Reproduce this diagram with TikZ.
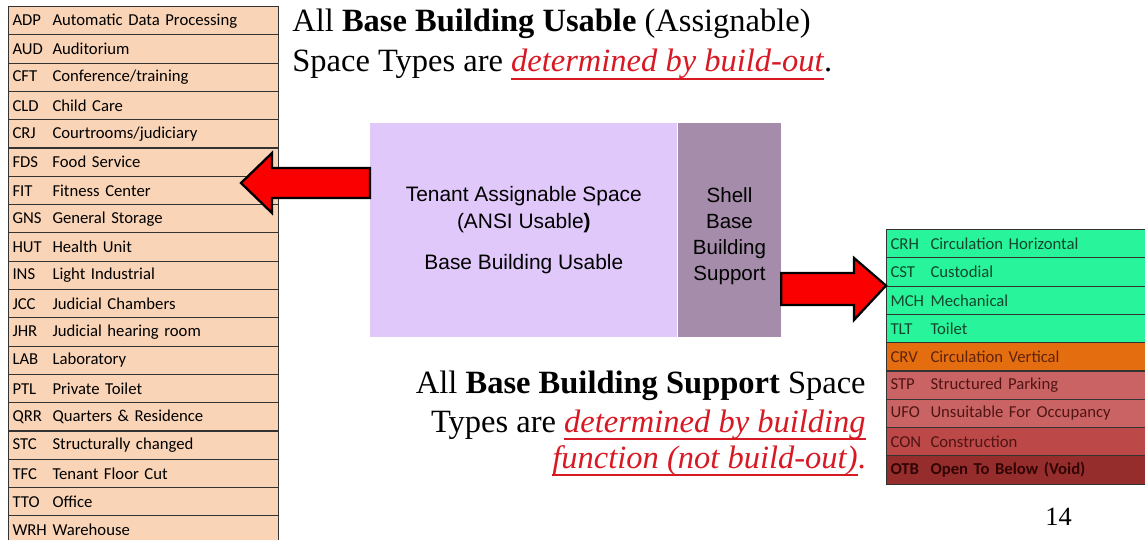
\documentclass[tikz,border=0pt]{standalone}
\usepackage{fontspec}
\setmainfont{Liberation Serif}
\newfontfamily\tablefont{Carlito}
\newfontfamily\boxfont{Liberation Sans}
\usetikzlibrary{positioning}

\definecolor{peach}{RGB}{250,212,182}
\definecolor{lavender}{RGB}{225,200,250}
\definecolor{shellgray}{RGB}{165,140,170}
\definecolor{supgreen}{RGB}{40,245,155}
\definecolor{supgreentext}{RGB}{20,70,45}
\definecolor{crvorange}{RGB}{228,110,15}
\definecolor{crvtext}{RGB}{95,35,10}
\definecolor{stpred}{RGB}{202,100,100}
\definecolor{conred}{RGB}{188,72,72}
\definecolor{otbred}{RGB}{150,45,45}
\definecolor{redtext}{RGB}{80,20,20}
\definecolor{otbtext}{RGB}{50,5,5}
\definecolor{titlered}{RGB}{215,25,35}
\definecolor{arrowred}{RGB}{250,0,0}

\newsavebox\ulbox
\newcommand\redul[1]{\textcolor{titlered}{\sbox\ulbox{\textit{#1}}%
  \rlap{\rule[-0.24em]{\wd\ulbox}{0.9pt}}\usebox\ulbox}}

\begin{document}
\begin{tikzpicture}[x=0.02cm, y=-0.02cm,
  leftrow/.style={draw=black!80, line width=0.6pt, fill=peach, anchor=north west,
    minimum height=0.566cm, text width=5.24cm, inner xsep=0.08cm, inner ysep=0pt,
    align=left, font=\tablefont\fontsize{9.5}{11}\selectfont},
  rightrow/.style 2 args={leftrow, fill=#1, text=#2},
  tasbox/.style={fill=lavender, anchor=north west, minimum width=6.14cm,
    minimum height=4.28cm, inner sep=0pt, align=center,
    font=\boxfont\fontsize{11.9}{15.3}\selectfont},
  shellbox/.style={fill=shellgray, minimum width=2.06cm, minimum height=4.28cm},
  shelltext/.style={inner sep=0pt, align=center, font=\boxfont\fontsize{11.7}{14.7}\selectfont},
  caption/.style={inner sep=0pt, font=\fontsize{18.5}{22.7}\selectfont},
  blockarrow/.style={draw=black, line width=1.3pt, fill=arrowred, line join=miter}
]
  \clip (0,0) rectangle (1145,540);

  % usable space types
  \foreach \code/\name [count=\i from 0] in {ADP/Automatic Data Processing,
      AUD/Auditorium, CFT/{Conference/training}, CLD/Child Care,
      CRJ/{Courtrooms/judiciary}, FDS/Food Service, FIT/Fitness Center,
      GNS/General Storage, HUT/Health Unit, INS/Light Industrial,
      JCC/Judicial Chambers, JHR/Judicial hearing room, LAB/Laboratory,
      PTL/Private Toilet, QRR/Quarters \& Residence, STC/Structurally changed,
      TFC/Tenant Floor Cut, TTO/Office, WRH/Warehouse}
    \node[leftrow] (use\i) at (8,{6+28.3*\i}) {\makebox[0.8cm][l]{\code}\name};

  % support space types
  \foreach \code/\name/\bg/\fg [count=\i from 0] in {
      CRH/Circulation Horizontal/supgreen/supgreentext,
      CST/Custodial/supgreen/supgreentext,
      MCH/Mechanical/supgreen/supgreentext,
      TLT/Toilet/supgreen/supgreentext,
      CRV/Circulation Vertical/crvorange/crvtext,
      STP/Structured Parking/stpred/redtext,
      UFO/Unsuitable For Occupancy/stpred/redtext,
      CON/Construction/conred/redtext,
      {\textbf{OTB}}/{\textbf{Open To Below (Void)}}/otbred/otbtext}
    \node[rightrow={\bg}{\fg}] (sup\i) at (886,{229+28.3*\i}) {\makebox[0.8cm][l]{\code}\name};

  % building blocks
  \node[tasbox] (tas) at (370,123) {Tenant Assignable Space\\(ANSI Usable\textbf{)}\\[8pt]Base Building Usable};
  \node[shellbox, right=0pt of tas] (shell) {};
  \node[shelltext] (shelllabel) at ([yshift=-0.12cm]shell.center) {Shell\\Base\\Building\\Support};

  % arrows
  \draw[blockarrow] (tas.west |- 0,168) -- (272,168) -- (272,153) -- (241,183)
    -- (272,213) -- (272,198) -- (tas.west |- 0,198) -- cycle;
  \draw[blockarrow] (shell.east |- 0,273) -- (854,273) -- (854,258) -- (sup2.north west)
    -- (854,320) -- (854,305) -- (shell.east |- 0,305) -- cycle;

  % captions
  \node[caption, anchor=base west] (usable1) at (292,32) {All \textbf{Base Building Usable} (Assignable)};
  \node[caption, anchor=base west] (usable2) at (292,72) {Space Types are \redul{determined by build-out}.};
  \node[caption, anchor=base east] (support1) at (866,393) {All \textbf{Base Building Support} Space};
  \node[caption, anchor=base east] (support2) at (866,432) {Types are \redul{determined by building}};
  \node[caption, anchor=base east] (support3) at (866,468) {\redul{function (not build-out)}\textcolor{titlered}{.}};

  \node[inner sep=0pt, anchor=base west, font=\fontsize{15}{18}\selectfont] (page) at (1045,525) {14};
\end{tikzpicture}
\end{document}
